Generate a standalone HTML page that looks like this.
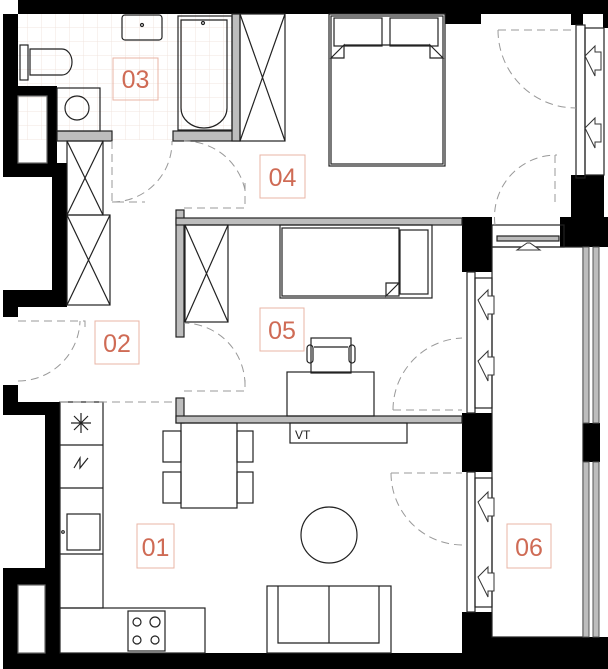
<!DOCTYPE html>
<html><head><meta charset="utf-8"><style>
html,body{margin:0;padding:0;background:#fff;width:608px;height:669px;overflow:hidden}
svg{display:block}
text{font-family:"Liberation Sans",sans-serif}
</style></head><body>
<svg width="608" height="669" viewBox="0 0 608 669" xmlns="http://www.w3.org/2000/svg">
<defs>
<pattern id="tile" width="14" height="14" patternUnits="userSpaceOnUse">
<path d="M14 0V14H0" fill="none" stroke="#f0e4df" stroke-width="1"/>
</pattern>
</defs>
<rect width="608" height="669" fill="#fff"/>
<rect x="18" y="14" width="214" height="126" fill="url(#tile)"/>

<g fill="#000">
<rect x="18" y="0" width="590" height="14"/>
<rect x="445" y="14" width="36" height="10"/>
<rect x="571" y="14" width="12" height="11"/>
<rect x="3" y="14" width="15" height="163"/>
<rect x="18" y="86" width="39" height="10"/>
<rect x="47" y="86" width="10" height="91"/>
<rect x="3" y="163" width="64" height="14"/>
<rect x="52" y="163" width="15" height="144"/>
<rect x="3" y="290" width="64" height="17"/>
<rect x="3" y="290" width="15" height="27"/>
<rect x="3" y="385" width="15" height="30"/>
<rect x="3" y="402" width="57" height="13"/>
<rect x="45" y="402" width="15" height="251"/>
<rect x="3" y="568" width="47" height="17"/>
<rect x="3" y="585" width="15" height="84"/>
<rect x="18" y="653" width="474" height="16"/>
<rect x="462" y="637" width="146" height="32"/>
<rect x="462" y="217" width="30" height="55"/>
<rect x="462" y="413" width="30" height="59"/>
<rect x="462" y="612" width="30" height="41"/>
<rect x="560" y="217" width="48" height="30"/>
<rect x="571" y="175" width="33" height="42"/>
<rect x="583" y="423" width="17" height="39"/>
<rect x="603" y="14" width="5" height="14"/>
</g>

<g fill="#bdbdbd" stroke="#222" stroke-width="1.2">
<rect x="57" y="131" width="55" height="10"/>
<rect x="173" y="131" width="67" height="10"/>
<rect x="232" y="14" width="8" height="127"/>
<rect x="176" y="210" width="8" height="127"/>
<rect x="176" y="218" width="286" height="7"/>
<rect x="176" y="398" width="8" height="25"/>
<rect x="176" y="416" width="286" height="7"/>
</g>

<g fill="none" stroke="#222" stroke-width="1.2">
<rect x="18" y="96" width="29" height="67" stroke="#666"/>
<rect x="18" y="585" width="27" height="68" stroke="#666"/>
<rect x="122" y="15" width="40" height="25" rx="3"/>
<circle cx="142" cy="25" r="1.5"/>
<rect x="20" y="45" width="8" height="35"/>
<path d="M30 49 H62 A10 13 0 0 1 62 75 H30 Z"/>
<rect x="57" y="88" width="43" height="43"/>
<circle cx="77" cy="108" r="12"/>
<rect x="178" y="16" width="54" height="114"/>
<path d="M181 20 H227 V108 A23 20 0 0 1 181 108 Z"/>
<circle cx="203" cy="23" r="1.5"/>
<rect x="240" y="14" width="45" height="127"/>
<path d="M240 14 L285 141 M285 14 L240 141"/>
<rect x="67" y="141" width="36" height="74"/>
<path d="M67 141 L103 215 M103 141 L67 215"/>
<rect x="67" y="215" width="43" height="90"/>
<path d="M67 215 L110 305 M110 215 L67 305"/>
<rect x="185" y="225" width="43" height="97"/>
<path d="M185 225 L228 322 M228 225 L185 322"/>
<rect x="329" y="14" width="116" height="152"/>
<rect x="331" y="16" width="112" height="148"/>
<rect x="334" y="18" width="48" height="28"/>
<rect x="390" y="18" width="48" height="28"/>
<path d="M344 45 L331 58 H344 Z M430 45 L443 58 H430 Z M344 45 H430"/>
<rect x="280" y="225" width="152" height="73"/>
<rect x="282" y="228" width="117" height="68"/>
<rect x="400" y="230" width="28" height="64"/>
<path d="M386 296 L399 283 H386 Z"/>
<rect x="287" y="372" width="87" height="44"/>
<rect x="311" y="338" width="40" height="35"/>
<path d="M314 347 H348"/>
<rect x="307" y="345" width="6" height="18" rx="3"/>
<rect x="349" y="345" width="6" height="18" rx="3"/>
<rect x="290" y="423" width="117" height="20"/>
<rect x="181" y="423" width="56" height="85"/>
<rect x="163" y="431" width="18" height="31"/>
<rect x="163" y="472" width="18" height="31"/>
<rect x="237" y="431" width="16" height="31"/>
<rect x="237" y="472" width="16" height="31"/>
<circle cx="329" cy="535" r="28"/>
<rect x="267" y="586" width="124" height="67"/>
<path d="M278 586 V643 H379 V586 M329 586 V643"/>
<rect x="60" y="402" width="43" height="206"/>
<path d="M60 445 H103 M60 488 H103 M60 554 H103"/>
<path d="M81 413 V433 M71 423 H91 M74 416 L88 430 M88 416 L74 430"/>
<path d="M74 468 L80 458 V468 L88 458"/>
<rect x="67" y="514" width="33" height="36"/>
<circle cx="63" cy="532" r="1.3"/>
<rect x="60" y="608" width="145" height="45"/>
<rect x="128" y="611" width="37" height="40"/>
<circle cx="137" cy="622" r="4"/><circle cx="155" cy="622" r="5"/>
<circle cx="137" cy="640" r="4"/><circle cx="155" cy="640" r="4"/>
<rect x="576" y="25" width="9" height="153"/>
<rect x="585" y="28" width="19" height="147"/>
<rect x="467" y="272" width="8" height="141"/>
<rect x="475" y="278" width="17" height="130"/>
<rect x="467" y="472" width="8" height="140"/>
<rect x="475" y="478" width="17" height="129"/>
<rect x="492" y="225" width="72" height="22"/>
<rect x="497" y="236" width="62" height="5" fill="#bbb"/>
<rect x="492" y="247" width="91" height="390"/>
</g>
<g fill="#bdbdbd" stroke="#555" stroke-width="1">
<rect x="583" y="247" width="6" height="176"/><rect x="593" y="247" width="6" height="176"/>
<rect x="583" y="462" width="6" height="175"/><rect x="593" y="462" width="6" height="175"/>
</g>
<g fill="#fff" stroke="#333" stroke-width="1">
<path d="M585 56 L595 46 V52 H601 V70 H595 V76 Z"/>
<path d="M585 128 L595 118 V124 H601 V142 H595 V148 Z"/>
<path d="M478 300 L488 290 V296 H494 V314 H488 V320 Z"/>
<path d="M478 361 L488 351 V357 H494 V375 H488 V381 Z"/>
<path d="M478 502 L488 492 V498 H494 V516 H488 V522 Z"/>
<path d="M478 577 L488 567 V573 H494 V591 H488 V597 Z"/>
<path d="M527 243 L517 250 H540 L530 243 Z"/>
</g>
<g fill="none" stroke="#999" stroke-width="1" stroke-dasharray="8 5">
<path d="M112 141 V202 H145 M112 202 A60 60 0 0 0 172 141"/>
<path d="M184 208 H245 V180 M245 190 A62 62 0 0 0 184 141"/>
<path d="M18 321 H85 V330 M18 381 A62 62 0 0 0 80 321"/>
<path d="M184 391 H245 V380 M245 385 A62 62 0 0 0 184 323"/>
<path d="M60 402 H176"/>
<path d="M393 410 H462 M393 410 A72 72 0 0 1 462 338"/>
<path d="M391 473 H462 M391 473 A72 72 0 0 0 462 545"/>
<path d="M498 30 H576 M498 30 A78 78 0 0 0 576 108"/>
<path d="M555 155 V205 M495 225 A62 62 0 0 1 557 155"/>
</g>
<g fill="none" stroke="#e8b4a6" stroke-width="1">
<rect x="113" y="58" width="45" height="42"/>
<rect x="260" y="155" width="45" height="43"/>
<rect x="95" y="321" width="44" height="43"/>
<rect x="260" y="308" width="44" height="43"/>
<rect x="137" y="524" width="37" height="44"/>
<rect x="507" y="524" width="44" height="44"/>
</g>
<g fill="#cf6b55" font-size="25" text-anchor="middle">
<text x="135.5" y="88">03</text>
<text x="282.5" y="186">04</text>
<text x="117" y="352">02</text>
<text x="282" y="339">05</text>
<text x="155.5" y="556">01</text>
<text x="529" y="556">06</text>
</g>
<text x="295" y="439" font-size="12" fill="#222">VT</text>
</svg>
</body></html>
